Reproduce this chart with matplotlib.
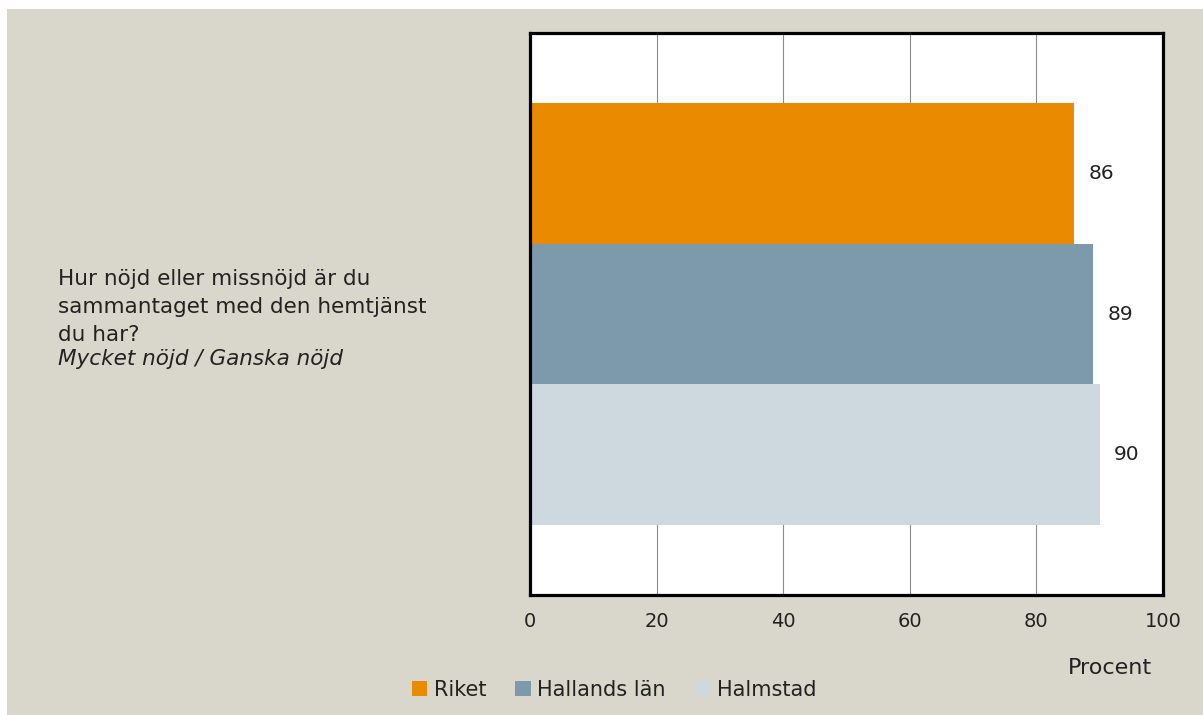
import matplotlib.pyplot as plt
from matplotlib.patches import Rectangle
import numpy as np

series = ['Riket', 'Hallands län', 'Halmstad']
values = [86, 89, 90]
colors = ['#EA8A00', '#7D9AAC', '#CDD8DF']
question = ['Hur nöjd eller missnöjd är du',
            'sammantaget med den hemtjänst',
            'du har?']
subtitle = 'Mycket nöjd / Ganska nöjd'
xticks = [0, 20, 40, 60, 80, 100]

plt.rcParams['font.family'] = ['DejaVu Sans']
bg = '#D9D7CB'
txt = '#222222'

fig = plt.figure(figsize=(12.03, 7.15), dpi=100, facecolor='white')
fig.patches.append(Rectangle((7 / 1203, 0), 1 - 7 / 1203, 1 - 9 / 715,
                             transform=fig.transFigure, facecolor=bg,
                             edgecolor='none', zorder=-10))

ax = fig.add_axes([530 / 1203, 120 / 715, 633 / 1203, 562 / 715])
ax.set_facecolor('white')

height = 0.25
offsets = [0.25, 0.0, -0.25]
for name, val, col, off in zip(series, values, colors, offsets):
    ax.barh(off, val, height=height, color=col, label=name, zorder=2)
    ax.text(val + 2.2, off, str(val), va='center', ha='left',
            fontsize=14.5, color=txt)

ax.set_xlim(0, 100)
ax.set_ylim(-0.5, 0.5)
ax.set_xticks(xticks)
ax.set_xticklabels([str(t) for t in xticks], fontsize=14, color=txt)
ax.set_yticks([])
ax.tick_params(axis='x', length=0, pad=12)
ax.grid(axis='x', color='#8c8c8c', linewidth=0.8, zorder=0)
for s in ax.spines.values():
    s.set_color('black')
    s.set_linewidth(2.3)

# question text, one line at a time to match the wide line spacing
baselines = [285, 313, 341]
for line, yb in zip(question, baselines):
    fig.text(58 / 1203, 1 - yb / 715, line, fontsize=15.5, color=txt,
             va='baseline', ha='left')
fig.text(58 / 1203, 1 - 365 / 715, subtitle, fontsize=15.5, color=txt,
         va='baseline', ha='left', style='italic')

fig.text(1110 / 1203, 1 - 668 / 715, 'Procent', fontsize=16,
         color=txt, ha='center', va='center')

fig.legend(loc='center', bbox_to_anchor=(614 / 1203, 1 - 690 / 715),
           ncol=3, frameon=False, fontsize=15, handlelength=0.75,
           handleheight=0.75, handletextpad=0.3, columnspacing=1.4,
           labelcolor=txt)

plt.savefig('out.png', dpi=100, facecolor=fig.get_facecolor())
